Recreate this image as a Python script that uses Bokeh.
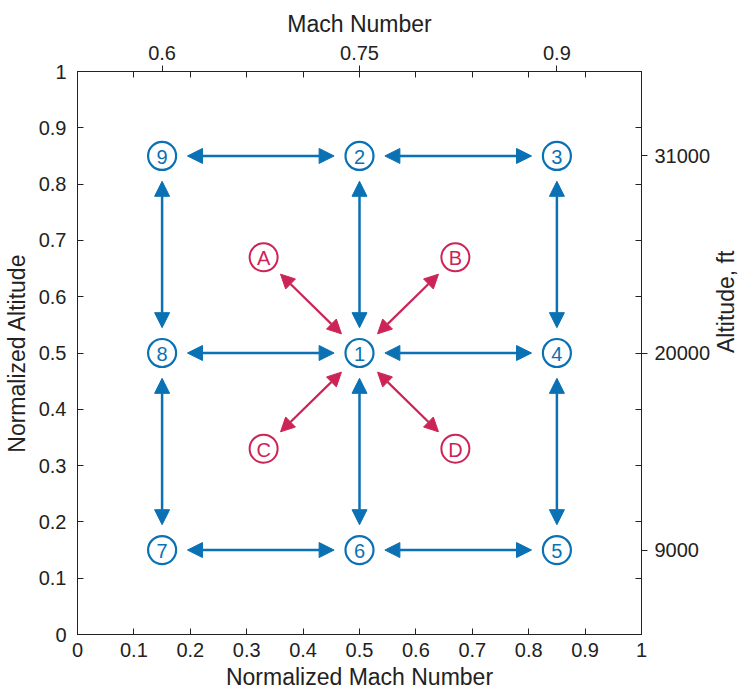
import math
from bokeh.plotting import figure
from bokeh.models import LinearAxis, FixedTicker, Range1d, ColumnDataSource, Arrow, NormalHead
from bokeh.core.properties import value
from bokeh.embed import file_html
from bokeh.resources import INLINE

# ---- data ----
norm_ticks = [0, 0.1, 0.2, 0.3, 0.4, 0.5, 0.6, 0.7, 0.8, 0.9, 1]
norm_tick_labels = ["0", "0.1", "0.2", "0.3", "0.4", "0.5", "0.6", "0.7", "0.8", "0.9", "1"]
mach_tick_pos = [0.15, 0.5, 0.85]
mach_tick_labels = ["0.6", "0.75", "0.9"]
alt_tick_pos = [0.15, 0.5, 0.85]
alt_tick_labels = ["9000", "20000", "31000"]

node_labels = ["1", "2", "3", "4", "5", "6", "7", "8", "9"]
node_x = [0.5, 0.5, 0.85, 0.85, 0.85, 0.5, 0.15, 0.15, 0.15]
node_y = [0.5, 0.85, 0.85, 0.5, 0.15, 0.15, 0.15, 0.5, 0.85]

off_labels = ["A", "B", "C", "D"]
off_x = [0.33, 0.67, 0.33, 0.67]
off_y = [0.67, 0.67, 0.33, 0.33]

blue_x0 = [0.195, 0.545, 0.195, 0.545, 0.195, 0.545, 0.15, 0.15, 0.5, 0.5, 0.85, 0.85]
blue_y0 = [0.85, 0.85, 0.5, 0.5, 0.15, 0.15, 0.805, 0.455, 0.805, 0.455, 0.805, 0.455]
blue_x1 = [0.455, 0.805, 0.455, 0.805, 0.455, 0.805, 0.15, 0.15, 0.5, 0.5, 0.85, 0.85]
blue_y1 = [0.85, 0.85, 0.5, 0.5, 0.15, 0.15, 0.545, 0.195, 0.545, 0.195, 0.545, 0.195]

red_x0 = [0.36, 0.64, 0.36, 0.64]
red_y0 = [0.64, 0.64, 0.36, 0.36]
red_x1 = [0.468, 0.532, 0.468, 0.532]
red_y1 = [0.534, 0.534, 0.466, 0.466]

BLUE = "#0a72b4"
RED = "#cc2455"
FONT = "Liberation Sans"
TXT = "#222222"

p = figure(frame_width=564, frame_height=563,
           x_range=Range1d(0, 1), y_range=Range1d(0, 1),
           output_backend="svg", toolbar_location=None,
           min_border_left=76, min_border_top=71, min_border_right=96, min_border_bottom=60,
           background_fill_color="white", border_fill_color="white")
p.grid.visible = False
p.outline_line_color = "#222222"


def style(ax, label):
    ax.axis_label = label
    ax.axis_line_color = "#222222"
    ax.major_tick_line_color = "#222222"
    ax.minor_tick_line_color = "#222222"
    ax.major_label_text_font = FONT
    ax.major_label_text_font_size = "20px"
    ax.major_label_text_color = TXT
    ax.axis_label_text_font = FONT
    ax.axis_label_text_font_size = "23px"
    ax.axis_label_text_font_style = "normal"
    ax.axis_label_text_color = TXT


xa = p.xaxis[0]
xa.ticker = FixedTicker(ticks=norm_ticks)
xa.major_label_overrides = dict(zip(norm_ticks, norm_tick_labels))
style(xa, "Normalized Mach Number")
xa.major_tick_in = 6
xa.major_tick_out = 0
xa.minor_tick_line_color = None
xa.major_label_standoff = 8
xa.axis_label_standoff = 4

ya = p.yaxis[0]
ya.ticker = FixedTicker(ticks=norm_ticks)
ya.major_label_overrides = dict(zip(norm_ticks, norm_tick_labels))
style(ya, "Normalized Altitude")
ya.major_tick_in = 6
ya.major_tick_out = 0
ya.minor_tick_line_color = None
ya.major_label_standoff = 11
ya.axis_label_standoff = 6

top = LinearAxis(ticker=FixedTicker(ticks=mach_tick_pos, minor_ticks=norm_ticks),
                 major_label_overrides=dict(zip(mach_tick_pos, mach_tick_labels)))
style(top, "Mach Number")
top.major_tick_in = 0
top.major_tick_out = 6
top.minor_tick_in = 6
top.minor_tick_out = 0
top.major_label_standoff = 6
top.axis_label_standoff = 6
p.add_layout(top, "above")

right = LinearAxis(ticker=FixedTicker(ticks=alt_tick_pos, minor_ticks=norm_ticks),
                   major_label_overrides=dict(zip(alt_tick_pos, alt_tick_labels)))
style(right, "Altitude, ft")
right.major_tick_in = 0
right.major_tick_out = 6
right.minor_tick_in = 6
right.minor_tick_out = 0
right.major_label_standoff = 7
right.axis_label_standoff = 13
if "axis_label_orientation" in right.properties():
    right.axis_label_orientation = math.pi / 2
p.add_layout(right, "right")

# arrows
bsrc = ColumnDataSource(dict(x0=blue_x0, y0=blue_y0, x1=blue_x1, y1=blue_y1))
p.add_layout(Arrow(start=NormalHead(size=15, fill_color=BLUE, line_color=BLUE),
                   end=NormalHead(size=15, fill_color=BLUE, line_color=BLUE),
                   x_start="x0", y_start="y0", x_end="x1", y_end="y1", source=bsrc,
                   line_color=BLUE, line_width=2.5))
rsrc = ColumnDataSource(dict(x0=red_x0, y0=red_y0, x1=red_x1, y1=red_y1))
p.add_layout(Arrow(start=NormalHead(size=14, fill_color=RED, line_color=RED),
                   end=NormalHead(size=14, fill_color=RED, line_color=RED),
                   x_start="x0", y_start="y0", x_end="x1", y_end="y1", source=rsrc,
                   line_color=RED, line_width=2.2))

# nodes
nsrc = ColumnDataSource(dict(x=node_x, y=node_y, t=node_labels))
p.scatter("x", "y", source=nsrc, marker="circle", size=28, fill_color="white",
          line_color=BLUE, line_width=2.2)
p.text("x", "y", text="t", source=nsrc, text_font=value(FONT), text_font_size="20px",
       text_align="center", text_baseline="middle", text_color=BLUE, y_offset=1)

osrc = ColumnDataSource(dict(x=off_x, y=off_y, t=off_labels))
p.scatter("x", "y", source=osrc, marker="circle", size=28, fill_color="white",
          line_color=RED, line_width=2.0)
p.text("x", "y", text="t", source=osrc, text_font=value(FONT), text_font_size="20px",
       text_align="center", text_baseline="middle", text_color=RED, y_offset=1)

open("out.html", "w").write(file_html(p, INLINE))
